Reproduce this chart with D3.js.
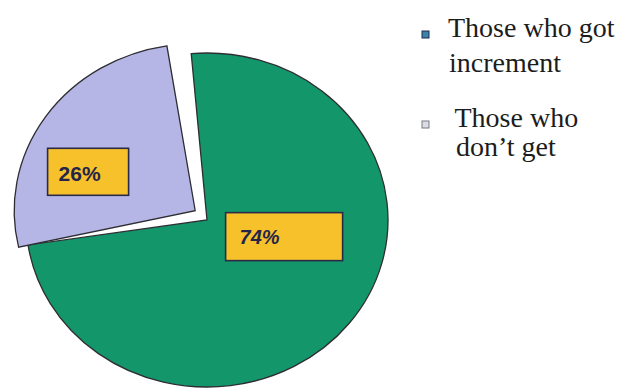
<!DOCTYPE html>
<html>
<head>
<meta charset="utf-8">
<script src="https://cdn.jsdelivr.net/npm/d3@7"></script>
<style>
  body { margin: 0; background: #fff; }
  svg { display: block; }
  .legend text { font-family: "Liberation Serif", "Times New Roman", serif; }
</style>
</head>
<body>
<div id="chart"></div>
<script>
// slices
const categories = ["Those who got increment", "Those who don't get"];
const shares = [74, 26];
const sliceColors = ["#14966b", "#b6b6e6"];
const percentLabels = ["74%", "26%"];

// legend text, as broken in the picture
const legendLines = [["Those who got", "increment"], [" Those who", "don\u2019t get"]];
const legendSwatch = ["#3a84a8", "#dcdce8"];

const W = 622, H = 389;
const cx = 207, cy = 220, rx = 181, ry = 167;
const sy = ry / rx;

const svg = d3.select("#chart").append("svg")
    .attr("width", W)
    .attr("height", H);

const data = categories.map((c, i) => ({name: c, value: shares[i], label: percentLabels[i]}));

const start = -5 * Math.PI / 180;
const pie = d3.pie()
    .sort(null)
    .value(d => d.value)
    .startAngle(start)
    .endAngle(start + 2 * Math.PI);

const arc = d3.arc().innerRadius(0).outerRadius(rx);
const labelArc = d3.arc().innerRadius(rx * 0.5).outerRadius(rx * 0.5);

const slices = pie(data);

// pulled-out slice gets an offset along its middle angle
const explode = 15;
function offset(d, i) {
    if (i === 0) return [0, 0];
    const a = (d.startAngle + d.endAngle) / 2;
    return [Math.sin(a) * explode, -Math.cos(a) * explode];
}

const g = svg.append("g")
    .attr("transform", `translate(${cx},${cy}) scale(1,${sy})`);

g.selectAll("path.slice")
    .data(slices)
    .enter().append("path")
    .attr("class", "slice")
    .attr("d", arc)
    .attr("fill", (d, i) => sliceColors[i])
    .attr("stroke", "#2d2d33")
    .attr("stroke-width", 1.3)
    .attr("vector-effect", "non-scaling-stroke")
    .attr("transform", (d, i) => {
        const [dx, dy] = offset(d, i);
        return i === 0 ? null : `translate(${dx},${dy / sy}) rotate(-4)`;
    });

// yellow label boxes
const boxW = [117, 81], boxH = [48, 47];
const nudge = [[6, -35], [-36, 12]];
const fontSize = [20, 21];

const labels = svg.selectAll("g.lbl")
    .data(slices)
    .enter().append("g")
    .attr("class", "lbl")
    .attr("transform", (d, i) => {
        const c = labelArc.centroid(d);
        const [dx, dy] = offset(d, i);
        const x = cx + c[0] + dx + nudge[i][0];
        const y = cy + (c[1] + dy) * sy + nudge[i][1];
        return `translate(${x},${y})`;
    });

labels.append("rect")
    .attr("x", (d, i) => -boxW[i] / 2)
    .attr("y", (d, i) => -boxH[i] / 2)
    .attr("width", (d, i) => boxW[i])
    .attr("height", (d, i) => boxH[i])
    .attr("fill", "#f7c12c")
    .attr("stroke", "#2a2a48")
    .attr("stroke-width", 1.6);

labels.append("text")
    .attr("x", (d, i) => i === 0 ? -boxW[i] / 2 + 14 : -boxW[i] / 2 + 11)
    .attr("y", (d, i) => i === 0 ? 2 : 3.5)
    .attr("dominant-baseline", "middle")
    .attr("font-family", "Liberation Sans, Arial, sans-serif")
    .attr("font-weight", "bold")
    .attr("font-style", (d, i) => i === 0 ? "italic" : "normal")
    .attr("font-size", (d, i) => fontSize[i])
    .attr("fill", "#25254a")
    .text(d => d.data.label);

// legend
const legendX = 422;
const legendY = [37, 127];
const lineGap = [35, 29];

const legend = svg.selectAll("g.legend")
    .data(categories)
    .enter().append("g")
    .attr("class", "legend")
    .attr("transform", (d, i) => `translate(${legendX},${legendY[i]})`);

legend.append("rect")
    .attr("x", 0)
    .attr("y", -6)
    .attr("width", 7)
    .attr("height", 7)
    .attr("fill", (d, i) => legendSwatch[i])
    .attr("stroke", (d, i) => i === 0 ? "#1d2a50" : "#7a7a80")
    .attr("stroke-width", 1);

legend.each(function(d, i) {
    const t = d3.select(this).append("text")
        .attr("font-size", 28)
        .attr("fill", "#1c1c1c")
        .style("white-space", "pre");
    legendLines[i].forEach((line, j) => {
        t.append("tspan")
            .attr("x", j === 0 ? 26 : (i === 0 ? 27 : 34))
            .attr("y", j * lineGap[i])
            .text(line);
    });
});
</script>
</body>
</html>
